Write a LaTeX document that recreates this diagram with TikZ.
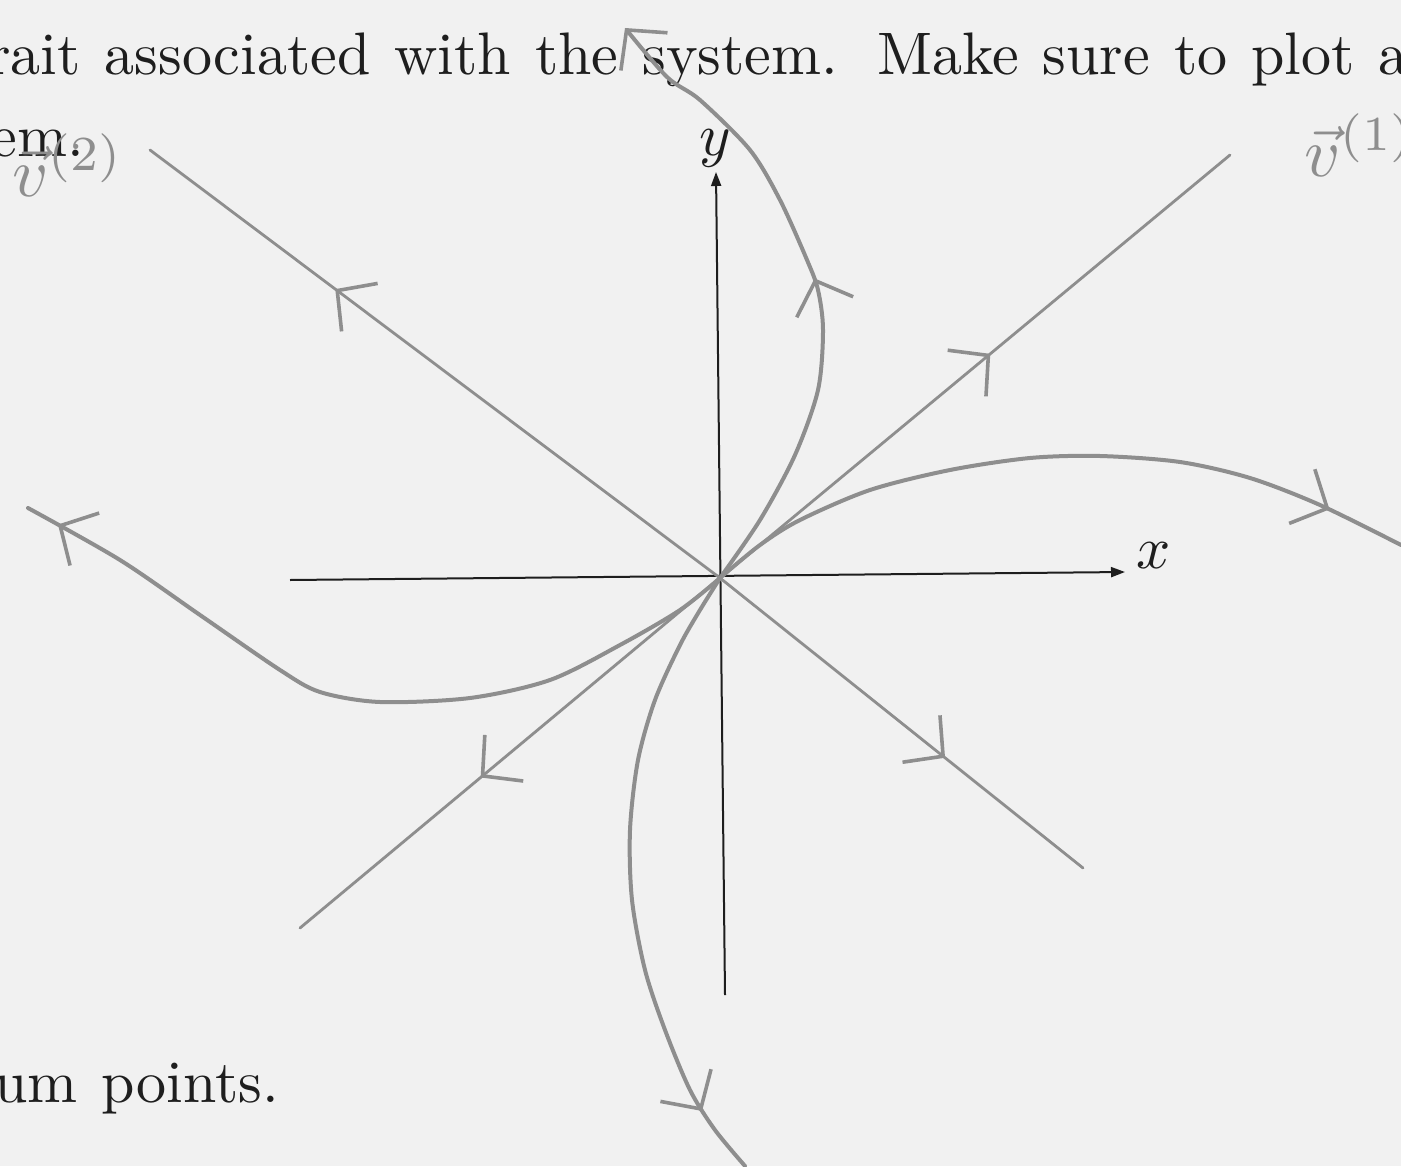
\documentclass[tikz,border=0pt]{standalone}
\usepackage{amsmath}
\usepackage{xcolor}
\usepackage{tikz}
\usetikzlibrary{arrows.meta,decorations.markings}
\definecolor{scanpaper}{HTML}{F1F1F1}
\definecolor{pencil}{HTML}{8E8E8E}
\definecolor{printink}{HTML}{1E1E1E}
\newcommand{\pagespacing}{\spaceskip=4pt plus 1pt\xspaceskip=6.5pt plus 1pt\relax}

\begin{document}
\begin{tikzpicture}[x=0.5pt, y=-0.5pt,
  axis/.style={draw=printink, line width=1pt, -{Triangle[length=7pt,width=5pt]}},
  eigline/.style={draw=pencil, line width=1.4pt, line cap=round},
  traj/.style={draw=pencil, line width=2pt, line cap=round},
  chev/.style={postaction={decorate, decoration={markings, mark=at position #1 with {\arrow[pencil]{Straight Barb[length=14pt,width=30pt,line width=1.8pt]}}}}},
  printed/.style={text=printink, inner sep=0pt, anchor=base west},
  handlabel/.style={text=pencil, inner sep=0pt}
]
\fill[scanpaper] (0,0) rectangle (1401,1166);
\useasboundingbox (0,0) rectangle (1401,1166);

% printed page text
\node[printed] (line1) at (-13,75) {\scalebox{3}{\pagespacing rait associated with the system. Make sure to plot a}};
\node[printed] (line2) at (-10,157) {\scalebox{3}{em.}};
\node[printed] (line3) at (-6,1102) {\scalebox{3}{\pagespacing um points.}};

% axes
\coordinate (O) at (720,578);
\coordinate (xneg) at (290,580);
\coordinate (xpos) at (1125,572);
\coordinate (yneg) at (725,995);
\coordinate (ypos) at (716,172);
\draw[axis] (xneg) -- (xpos);
\draw[axis] (yneg) -- (ypos);
\node[text=printink] (xlab) at (1154,556) {\scalebox{3}{$x$}};
\node[text=printink] (ylab) at (715,148) {\scalebox{3}{$y$}};

% eigenvector lines
\coordinate (v1a) at (1230,155);
\coordinate (v1b) at (300,928);
\coordinate (v2a) at (150,150);
\coordinate (v2b) at (1083,868);
\draw[eigline, chev=0.53] (O) -- (v1a);
\draw[eigline, chev=0.57] (O) -- (v1b);
\draw[eigline, chev=0.675] (O) -- (v2a);
\draw[eigline, chev=0.62] (O) -- (v2b);

\node[handlabel] (v1lab) at (1360,145) {\scalebox{3.5}{$\vec{v}^{(1)}$}};
\node[handlabel] (v2lab) at (68,165) {\scalebox{3.5}{$\vec{v}^{(2)}$}};

% trajectories
\draw[traj, chev=0.505, -{Straight Barb[length=14pt,width=30pt,line width=1.8pt]}] plot[smooth] coordinates {(O) (760,520) (795,455) (818,390) (823,330) (818,290) (807,260) (780,200) (750,150) (700,100) (667,77) (625,28)};
\draw[traj, chev=0.89] plot[smooth] coordinates {(O) (760,545) (800,520) (870,490) (950,470) (1030,458) (1100,456) (1180,462) (1250,478) (1320,505) (1401,545)};
\draw[traj, chev=0.956] plot[smooth] coordinates {(O) (680,610) (620,645) (550,680) (470,698) (380,702) (320,692) (280,670) (200,615) (120,560) (28,508)};
\draw[traj, chev=0.89] plot[smooth] coordinates {(O) (700,610) (680,645) (655,700) (638,760) (630,830) (632,900) (645,970) (665,1030) (690,1090) (715,1130) (745,1166)};
\end{tikzpicture}
\end{document}
